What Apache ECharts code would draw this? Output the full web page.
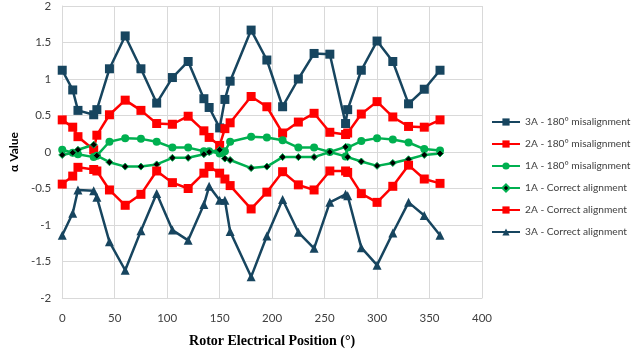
<!DOCTYPE html>
<html>
<head>
<meta charset="utf-8">
<script src="https://cdn.jsdelivr.net/npm/echarts@6/dist/echarts.min.js"></script>
<style>
  html, body { margin: 0; padding: 0; background: #fff; }
  #chart { width: 632px; height: 356px; }
</style>
</head>
<body>
<div id="chart"></div>
<script>
// rotor electrical positions (deg)
const positions = [0, 10, 15, 30, 33, 45, 60, 75, 90, 105, 120, 135, 140, 150, 155, 160, 180, 195, 210, 225, 240, 255, 270, 272, 285, 300, 315, 330, 345, 360];

const mis3A = [1.12, 0.85, 0.57, 0.51, 0.58, 1.14, 1.59, 1.14, 0.67, 1.02, 1.24, 0.73, 0.61, 0.33, 0.72, 0.97, 1.67, 1.26, 0.62, 1.0, 1.35, 1.34, 0.39, 0.58, 1.12, 1.52, 1.24, 0.66, 0.86, 1.12];
const mis2A = [0.44, 0.34, 0.21, 0.03, 0.23, 0.51, 0.71, 0.57, 0.39, 0.38, 0.49, 0.29, 0.2, 0.09, 0.32, 0.4, 0.76, 0.62, 0.26, 0.41, 0.53, 0.27, 0.24, 0.26, 0.52, 0.69, 0.48, 0.35, 0.34, 0.44];
const mis1A = [0.03, -0.01, -0.03, -0.07, -0.05, 0.14, 0.19, 0.18, 0.14, 0.06, 0.06, 0.01, 0.01, -0.02, 0.01, 0.14, 0.21, 0.2, 0.16, 0.06, 0.06, 0.0, -0.06, 0.06, 0.15, 0.19, 0.17, 0.13, 0.04, 0.02];
const ok1A = [-0.04, -0.01, 0.03, 0.1, -0.05, -0.14, -0.2, -0.2, -0.17, -0.08, -0.08, -0.03, 0.0, 0.03, -0.09, -0.11, -0.22, -0.2, -0.07, -0.07, -0.07, 0.0, 0.07, -0.07, -0.13, -0.19, -0.15, -0.1, -0.04, -0.02];
const ok2A = [-0.44, -0.33, -0.21, -0.24, -0.26, -0.52, -0.73, -0.58, -0.26, -0.42, -0.5, -0.29, -0.2, -0.29, -0.37, -0.46, -0.78, -0.55, -0.27, -0.45, -0.52, -0.26, -0.26, -0.28, -0.57, -0.69, -0.47, -0.18, -0.37, -0.43];
const ok3A = [-1.14, -0.84, -0.52, -0.53, -0.62, -1.23, -1.62, -1.08, -0.57, -1.07, -1.21, -0.72, -0.47, -0.66, -0.66, -1.09, -1.71, -1.15, -0.65, -1.1, -1.32, -0.69, -0.58, -0.6, -1.31, -1.55, -1.11, -0.69, -0.87, -1.14];

const seriesNames = ['3A - 180° misalignment', '2A - 180° misalignment', '1A - 180° misalignment',
  '1A - Correct alignment', '2A - Correct alignment', '3A - Correct alignment'];

const navy = '#17455f', red = '#ff0000', green = '#00b050';

function pairs(ys) {
  return positions.map((x, i) => [x, ys[i]]);
}

function mkSeries(name, ys, color, symbol, size, markColor) {
  return {
    name: name,
    type: 'line',
    data: pairs(ys),
    symbol: symbol,
    symbolSize: size,
    showAllSymbol: true,
    lineStyle: { color: color, width: 2.5 },
    itemStyle: { color: markColor || color, borderColor: color, borderWidth: markColor ? 1 : 0 },
    emphasis: { disabled: true },
    animation: false
  };
}

const chart = echarts.init(document.getElementById('chart'), null, { renderer: 'canvas' });

const option = {
  animation: false,
  textStyle: { fontFamily: 'Lato' },
  grid: { left: 56, right: 150, top: 6, bottom: 58, containLabel: false },
  legend: {
    orient: 'vertical',
    left: 486,
    top: 112,
    itemWidth: 28,
    itemHeight: 9,
    itemGap: 12,
    textStyle: { fontSize: 10.2, color: '#404040', fontFamily: 'Lato' },
    data: seriesNames
  },
  xAxis: {
    type: 'value',
    min: 0, max: 400, interval: 50,
    name: 'Rotor Electrical Position (°)',
    nameLocation: 'middle',
    nameGap: 36,
    nameTextStyle: { fontFamily: 'Liberation Serif', fontWeight: 'bold', fontSize: 14, color: '#000' },
    axisLine: { show: true, onZero: false, lineStyle: { color: '#d9d9d9' } },
    axisTick: { show: false },
    axisLabel: { color: '#404040', fontSize: 11.5, margin: 14, fontFamily: 'Lato' },
    splitLine: { show: true, lineStyle: { color: '#d9d9d9' } }
  },
  yAxis: {
    type: 'value',
    min: -2, max: 2, interval: 0.5,
    name: 'α Value',
    nameLocation: 'middle',
    nameRotate: 90,
    nameGap: 37,
    nameTextStyle: { fontWeight: 'bold', fontSize: 12, color: '#000', fontFamily: 'Lato' },
    axisLine: { show: true, lineStyle: { color: '#d9d9d9' } },
    axisTick: { show: false },
    axisLabel: { color: '#404040', fontSize: 11.5, margin: 11, fontFamily: 'Lato' },
    splitLine: { show: true, lineStyle: { color: '#d9d9d9' } }
  },
  series: [
    mkSeries(seriesNames[0], mis3A, navy, 'rect', 9),
    mkSeries(seriesNames[1], mis2A, red, 'rect', 9),
    mkSeries(seriesNames[2], mis1A, green, 'circle', 8),
    mkSeries(seriesNames[3], ok1A, green, 'diamond', 7, '#000'),
    mkSeries(seriesNames[4], ok2A, red, 'rect', 9),
    mkSeries(seriesNames[5], ok3A, navy, 'triangle', 9)
  ]
};

chart.setOption(option);
</script>
</body>
</html>
